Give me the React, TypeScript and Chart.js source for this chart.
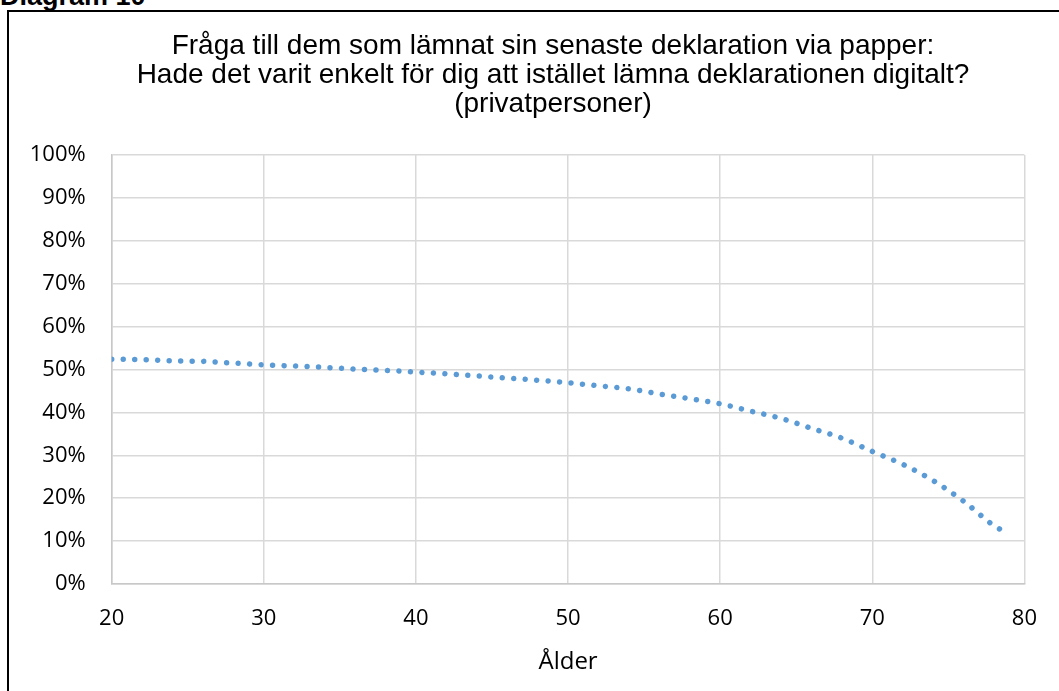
import React, { useEffect, useRef } from "react";
import { Chart, registerables } from "chart.js";

Chart.register(...registerables);

const ages = [20, 22, 24, 26, 28, 30, 32, 34, 36, 38, 40, 42, 44, 46, 48, 50, 52, 54, 56, 58, 60, 62, 64, 66, 68, 70, 72, 74, 76, 78, 78.8];
const shares = [52.4, 52.3, 52.0, 51.9, 51.5, 51.1, 50.8, 50.5, 50.1, 49.8, 49.4, 49.0, 48.5, 48.0, 47.5, 46.9, 46.2, 45.5, 44.3, 43.2, 42.0, 40.3, 38.6, 36.3, 34.0, 30.9, 27.9, 24.1, 19.3, 13.6, 12.0];
const titleLines = [
  "Fråga till dem som lämnat sin senaste deklaration via papper:",
  "Hade det varit enkelt för dig att istället lämna deklarationen digitalt?",
  "(privatpersoner)",
];
const xAxisTitle = "Ålder";
const diagramLabel = "Diagram 10";

export default function App() {
  const canvasRef = useRef<HTMLCanvasElement | null>(null);

  useEffect(() => {
    const canvas = canvasRef.current;
    if (!canvas) return;
    const chart = new Chart(canvas, {
      type: "line",
      data: {
        datasets: [
          {
            data: ages.map((a, i) => ({ x: a, y: shares[i] })),
            borderColor: "#5b9bd5",
            borderWidth: 5.5,
            borderDash: [0.001, 11.5],
            borderCapStyle: "round",
            pointRadius: 0,
            cubicInterpolationMode: "monotone",
            fill: false,
          },
        ],
      },
      options: {
        animation: false,
        responsive: false,
        maintainAspectRatio: false,
        layout: { padding: { top: 143, right: 34, left: 0, bottom: 0 } },
        plugins: { legend: { display: false }, tooltip: { enabled: false }, title: { display: false } },
        scales: {
          x: {
            type: "linear",
            min: 20,
            max: 80,
            afterFit: (s: any) => {
              s.height = 107;
            },
            ticks: {
              stepSize: 10,
              padding: 22,
              color: "#000",
              font: { family: "'Open Sans'", size: 22 },
            },
            grid: { color: "#d9d9d9", lineWidth: 1.5, drawTicks: false },
            border: { color: "#c8c8c8", width: 1.5 },
            title: {
              display: true,
              text: xAxisTitle,
              color: "#000",
              font: { family: "'Open Sans'", size: 24 },
              padding: { top: 0, bottom: 14 },
            },
          },
          y: {
            min: 0,
            max: 100,
            afterFit: (s: any) => {
              s.width = 102.7;
            },
            ticks: {
              stepSize: 10,
              padding: 26,
              color: "#000",
              font: { family: "'Open Sans'", size: 22 },
              callback: (v: any) => `${v}%`,
            },
            grid: { color: "#d9d9d9", lineWidth: 1.5, drawTicks: false },
            border: { color: "#c8c8c8", width: 1.5 },
          },
        },
      },
    });
    return () => chart.destroy();
  }, []);

  return (
    <div style={{ position: "absolute", left: 0, top: 0, width: 1059, height: 691, overflow: "hidden", background: "#fff" }}>
      <div
        style={{
          position: "absolute",
          left: 0,
          top: -17,
          fontFamily: "'Liberation Sans', Arial, sans-serif",
          fontWeight: "bold",
          fontSize: 27,
          lineHeight: "26px",
          color: "#000",
          whiteSpace: "nowrap",
        }}
      >
        {diagramLabel}
      </div>
      <div
        style={{
          position: "absolute",
          left: 7,
          top: 10,
          width: 1052,
          height: 681,
          boxSizing: "border-box",
          borderTop: "2px solid #000",
          borderLeft: "2px solid #000",
        }}
      />
      <canvas
        ref={canvasRef}
        width={1050}
        height={679}
        style={{ position: "absolute", left: 9, top: 12, width: 1050, height: 679 }}
      />
      <div
        style={{
          position: "absolute",
          left: 103,
          top: 30,
          width: 900,
          textAlign: "center",
          fontFamily: "'Liberation Sans', Arial, sans-serif",
          fontSize: 28,
          lineHeight: "29px",
          color: "#000",
          whiteSpace: "nowrap",
        }}
      >
        {titleLines.map((l, i) => (
          <div key={i}>{l}</div>
        ))}
      </div>
    </div>
  );
}
